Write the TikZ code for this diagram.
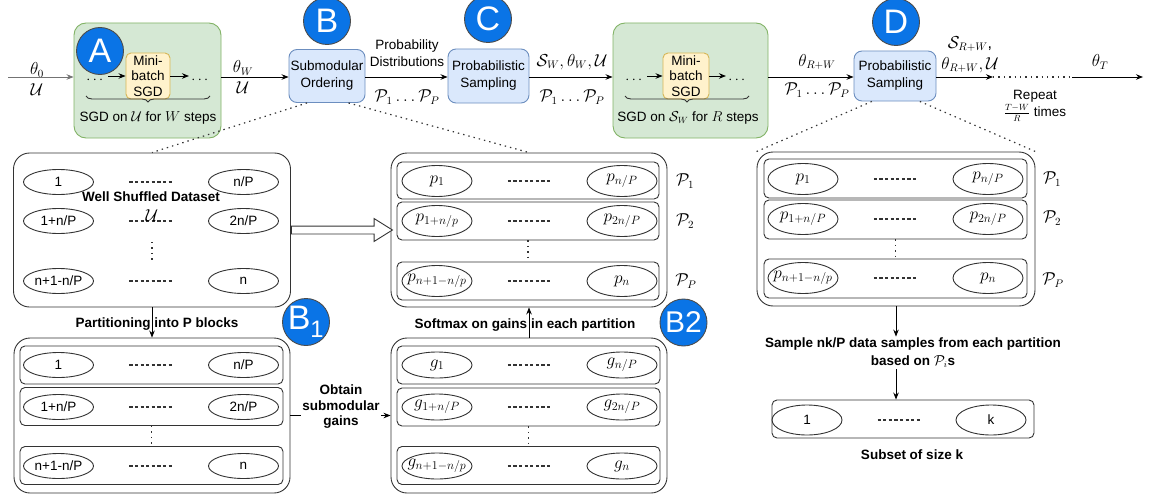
\documentclass[tikz,border=0pt]{standalone}
\usepackage{amsmath}
\usepackage{fontspec}
\setmainfont{Liberation Sans}
\usetikzlibrary{arrows.meta,shapes.geometric,shapes.arrows,decorations.pathreplacing,calc}
\definecolor{gfill}{HTML}{D5E8D4}
\definecolor{gline}{HTML}{82B366}
\definecolor{bfill}{HTML}{DAE8FC}
\definecolor{bline}{HTML}{6C8EBF}
\definecolor{yfill}{HTML}{FFF2CC}
\definecolor{yline}{HTML}{D6B656}
\definecolor{badgeblue}{HTML}{0A74E6}
\definecolor{ink}{HTML}{333333}
\tikzset{
  greenbox/.style={draw=gline, fill=gfill, rounded corners=12pt, inner sep=0pt},
  bluebox/.style={draw=bline, fill=bfill, rounded corners=8pt, align=center, inner sep=1pt, font=\fontsize{13.5}{17}\selectfont},
  ybox/.style={draw=yline, fill=yfill, rounded corners=5pt, align=center, inner sep=0pt, minimum width=44pt, minimum height=46pt, font=\fontsize{13.5}{15.5}\selectfont},
  badge/.style={circle, draw=black!70, fill=badgeblue, minimum size=47pt, inner sep=0pt,
    label={[text=white, font=\fontsize{34}{34}\selectfont]center:#1}},
  badgesm/.style={circle, draw=black!70, fill=badgeblue, minimum size=47pt, inner sep=0pt,
    label={[text=white, font=\fontsize{30}{30}\selectfont]center:#1}},
  panel/.style={draw=ink, rounded corners=16pt, inner sep=0pt},
  rowbox/.style={draw=ink, rounded corners=5pt, inner sep=0pt},
  ellshape/.style={ellipse, draw=ink, minimum width=70pt, minimum height=25pt, inner sep=0pt},
  ell/.style={ellshape, label={[font=\fontsize{13.5}{16}\selectfont]center:#1}},
  ellm/.style={ellshape, label={[font=\fontsize{17}{17}\selectfont]center:$#1$}},
  ellmb/.style={ellm=#1, minimum height=31pt},
  dashline/.style={draw=ink, dash pattern=on 3.2pt off 2.4pt, line width=1.1pt},
  vdots/.style={draw=ink, dash pattern=on 1.4pt off 4pt, line width=1.1pt},
  zoomline/.style={draw=ink, dash pattern=on 1.4pt off 4pt, line width=1.2pt},
  dotline/.style={draw=ink, dash pattern=on 1.4pt off 4pt, line width=1.2pt},
  mlab/.style={font=\fontsize{16}{17}\selectfont, inner sep=1pt},
  boldlab/.style={font=\bfseries\fontsize{13.5}{18}\selectfont, align=center, inner sep=1pt},
  plain/.style={font=\fontsize{13.5}{17}\selectfont, align=center, inner sep=1pt},
  brace/.style={decorate, decoration={brace, mirror, amplitude=6pt}, draw=ink}
}
\begin{document}
\begin{tikzpicture}[x=1pt, y=-1pt, line width=0.9pt, >={Stealth[length=7pt,width=5.5pt]}, font=\fontsize{13.5}{16}\selectfont]
\useasboundingbox (0,0) rectangle (1150,495);

% ---------------- top row ----------------
\node[greenbox, minimum width=147pt, minimum height=115pt] (gA) at (147.5,80.5) {};
\node[greenbox, minimum width=155pt, minimum height=115pt] (gB) at (690.5,80.5) {};
\node[bluebox, minimum width=76pt, minimum height=53pt] (sub) at (327,76) {Submodular\\Ordering};
\node[bluebox, minimum width=81pt, minimum height=54pt] (psC) at (488.5,76) {Probabilistic\\Sampling};
\node[bluebox, minimum width=82pt, minimum height=50pt] (psD) at (895,76) {Probabilistic\\Sampling};

% inside green box A
\node[ybox] (yA) at (148,76) {Mini-\\batch\\SGD};
\node[inner sep=2pt] (dA1) at (96,80) {$\cdots$};
\node[inner sep=2pt] (dA2) at (201,80) {$\cdots$};
\draw[->] (dA1.east |- yA.west) -- (yA.west);
\draw[->] (yA.east) -- (dA2.west |- yA.east);
\draw[brace] (86,96) -- (210,96);
\node[plain] (sgdA) at (148,118) {SGD on $\mathcal{U}$ for $W$ steps};

% inside green box B
\node[ybox, minimum width=46pt] (yB) at (686,76) {Mini-\\batch\\SGD};
\node[inner sep=2pt] (dB1) at (635,80) {$\cdots$};
\node[inner sep=2pt] (dB2) at (738,80) {$\cdots$};
\draw[->] (dB1.east |- yB.west) -- (yB.west);
\draw[->] (yB.east) -- (dB2.west |- yB.east);
\draw[brace] (625,96) -- (749,96);
\node[plain] (sgdB) at (688,118) {SGD on $\mathcal{S}_W$ for $R$ steps};

% labels on top row
\node[mlab] (th0) at (37,70) {$\theta_0$};
\node[mlab] (u0) at (37,90) {$\mathcal{U}$};
\node[mlab] (thW) at (243,68) {$\theta_W$};
\node[mlab] (uW) at (243,88) {$\mathcal{U}$};
\node[plain] (probd) at (407,53.5) {Probability\\Distributions};
\node[mlab] (pp1) at (407,97) {$\mathcal{P}_1\ldots\mathcal{P}_P$};
\node[mlab] (swl) at (572,62) {$\mathcal{S}_W,\theta_W,\mathcal{U}$};
\node[mlab] (pp2) at (572,97) {$\mathcal{P}_1\ldots\mathcal{P}_P$};
\node[mlab] (thRW) at (817,62) {$\theta_{R+W}$};
\node[mlab] (pp3) at (817,90) {$\mathcal{P}_1\ldots\mathcal{P}_P$};
\node[mlab, inner sep=0pt] (srw1) at (970,44) {$\mathcal{S}_{R+W}$,};
\node[mlab, inner sep=0pt] (srw2) at (970,65) {$\theta_{R+W},\mathcal{U}$};
\node[mlab] (thT) at (1100,62) {$\theta_T$};
\node[plain] (rep) at (1035,106) {Repeat\\$\frac{T-W}{R}$ times};

% main connectors
\coordinate (start) at (8,77);
\coordinate (m1) at (993,77);
\coordinate (m2) at (1072,77);
\coordinate (fin) at (1143,77);
\draw[->, draw=black!55] (start) -- (start -| gA.west);
\draw[->] (gA.east |- start) -- (sub.west |- start);
\draw[->] (sub.east |- start) -- (psC.west |- start);
\draw[->] (psC.east |- start) -- (gB.west |- start);
\draw[->] (gB.east |- start) -- (psD.west |- start);
\draw[->] (psD.east |- start) -- (m1);
\draw[dotline] (m1) -- (m2);
\draw[->] (m2) -- (fin);

% badges
\node[badge=A] (bA) at (100,51) {};
\node[badge=B] (bB) at (327,21) {};
\node[badge=C] (bC) at (488,19) {};
\node[badge=D] (bD) at (896,22) {};

% ---------------- panel 1: well shuffled dataset ----------------
\node[panel, minimum width=277pt, minimum height=154pt] (pan1) at (152,230) {};
\node[ell=1] (a11) at (58.5,182) {};
\node[ell=n/P] (a12) at (243.5,182) {};
\node[ell=1+n/P] (a21) at (58.5,221) {};
\node[ell=2n/P] (a22) at (243.5,221) {};
\node[ell=n+1-n/P] (a31) at (58.5,281) {};
\node[ell=n] (a32) at (243.5,281) {};
\foreach \r in {1,2,3}{
  \draw[dashline] ($(a\r1.east)!0.31!(a\r2.west)$) -- ($(a\r1.east)!0.70!(a\r2.west)$);
}
\draw[vdots] (152,242) -- (152,262);
\node[boldlab] (wsd) at (151,197) {Well Shuffled Dataset};
\node[mlab] (wsu) at (152,216) {$\mathcal{U}$};

% ---------------- panel B1: partitioned ----------------
\node[panel, minimum width=276pt, minimum height=155pt] (panB1) at (152,415.5) {};
\node[rowbox, minimum width=263pt, minimum height=38pt] (br1) at (151.5,365) {};
\node[rowbox, minimum width=263pt, minimum height=38pt] (br2) at (151.5,406.5) {};
\node[rowbox, minimum width=263pt, minimum height=38pt] (br3) at (151.5,465.5) {};
\node[ell=1] (b11) at (58.5,365) {};
\node[ell=n/P] (b12) at (243.5,365) {};
\node[ell=1+n/P] (b21) at (58.5,407) {};
\node[ell=2n/P] (b22) at (243.5,407) {};
\node[ell=n+1-n/P] (b31) at (58.5,466) {};
\node[ell=n] (b32) at (243.5,466) {};
\foreach \r in {1,2,3}{
  \draw[dashline] ($(b\r1.east)!0.31!(b\r2.west)$) -- ($(b\r1.east)!0.70!(b\r2.west)$);
}
\draw[vdots] (br2.south) -- (br3.north);

% ---------------- panel G: gains ----------------
\node[panel, minimum width=276pt, minimum height=155pt] (panG) at (529,415.5) {};
\node[rowbox, minimum width=263pt, minimum height=38pt] (gr1) at (528.5,365) {};
\node[rowbox, minimum width=263pt, minimum height=38pt] (gr2) at (528.5,407) {};
\node[rowbox, minimum width=263pt, minimum height=38pt] (gr3) at (528.5,465.5) {};
\node[ellm={g_1}, minimum height=26pt] (g11) at (437,365) {};
\node[ellm={g_{n/P}}, minimum height=26pt] (g12) at (622,365) {};
\node[ellm={g_{1+n/P}}, minimum height=26pt] (g21) at (437,407) {};
\node[ellm={g_{2n/P}}, minimum height=26pt] (g22) at (622,407) {};
\node[ellm={g_{n+1-n/p}}, minimum height=26pt] (g31) at (437,466) {};
\node[ellm={g_n}, minimum height=26pt] (g32) at (622,466) {};
\foreach \r in {1,2,3}{
  \draw[dashline] ($(g\r1.east)!0.31!(g\r2.west)$) -- ($(g\r1.east)!0.70!(g\r2.west)$);
}
\draw[vdots] (gr2.south) -- (gr3.north);

% ---------------- panel P: probabilities ----------------
\node[panel, minimum width=276pt, minimum height=154pt] (panP) at (529,230) {};
\node[rowbox, minimum width=262pt, minimum height=37pt] (pr1) at (528,180.5) {};
\node[rowbox, minimum width=262pt, minimum height=38pt] (pr2) at (528,221) {};
\node[rowbox, minimum width=262pt, minimum height=38pt] (pr3) at (528,281) {};
\node[ellmb={p_1}] (p11) at (437,181) {};
\node[ellmb={p_{n/P}}] (p12) at (622,181) {};
\node[ellmb={p_{1+n/p}}] (p21) at (437,221) {};
\node[ellmb={p_{2n/P}}] (p22) at (622,221) {};
\node[ellmb={p_{n+1-n/p}}] (p31) at (437,281) {};
\node[ellmb={p_n}] (p32) at (622,281) {};
\foreach \r in {1,2,3}{
  \draw[dashline] ($(p\r1.east)!0.31!(p\r2.west)$) -- ($(p\r1.east)!0.70!(p\r2.west)$);
}
\draw[vdots] (pr2.south) -- (pr3.north);
\node[mlab] (lP1) at (685,181) {$\mathcal{P}_1$};
\node[mlab] (lP2) at (685,221) {$\mathcal{P}_2$};
\node[mlab] (lPP) at (686,281) {$\mathcal{P}_P$};

% ---------------- panel 3: sampling ----------------
\node[panel, minimum width=278pt, minimum height=154pt] (pan3) at (896,229) {};
\node[rowbox, minimum width=263pt, minimum height=39pt] (sr1) at (895.5,178.5) {};
\node[rowbox, minimum width=263pt, minimum height=39pt] (sr2) at (895.5,219.5) {};
\node[rowbox, minimum width=263pt, minimum height=39pt] (sr3) at (895.5,278.5) {};
\node[ellmb={p_1}] (s11) at (803,179) {};
\node[ellmb={p_{n/P}}] (s12) at (988,179) {};
\node[ellmb={p_{1+n/P}}] (s21) at (803,219) {};
\node[ellmb={p_{2n/P}}] (s22) at (988,219) {};
\node[ellmb={p_{n+1-n/p}}] (s31) at (803,278) {};
\node[ellmb={p_n}] (s32) at (988,278) {};
\foreach \r in {1,2,3}{
  \draw[dashline] ($(s\r1.east)!0.31!(s\r2.west)$) -- ($(s\r1.east)!0.70!(s\r2.west)$);
}
\draw[vdots] (sr2.south) -- (sr3.north);
\node[mlab] (lS1) at (1052,179) {$\mathcal{P}_1$};
\node[mlab] (lS2) at (1052,218) {$\mathcal{P}_2$};
\node[mlab] (lSP) at (1053,280) {$\mathcal{P}_P$};

% subset
\node[boldlab] (samp) at (913,353) {Sample nk/P data samples from each partition\\based on $\mathcal{P}_i$s};
\node[rowbox, minimum width=262pt, minimum height=38pt] (subset) at (903,419) {};
\node[ell=1, minimum height=30pt] (k1) at (807,420) {};
\node[ell=k, minimum height=30pt] (k2) at (991,420) {};
\draw[dashline] ($(k1.east)!0.31!(k2.west)$) -- ($(k1.east)!0.70!(k2.west)$);
\node[boldlab] (subk) at (912,455) {Subset of size k};

% ---------------- lower connectors ----------------
\draw[zoomline] ($(sub.south west)!0.24!(sub.south east)$) -- (pan1.north);
\draw[zoomline] ($(sub.south west)!0.78!(sub.south east)$) -- (panP.north);
\draw[zoomline] ($(psD.south west)!0.22!(psD.south east)$) -- (pan3.north west);
\draw[zoomline] ($(psD.south west)!0.80!(psD.south east)$) -- (pan3.north east);

\node[single arrow, draw=ink, fill=white, minimum height=101pt, minimum width=22pt,
      single arrow head extend=7.5pt, single arrow tip angle=64, inner xsep=0pt, inner ysep=3.5pt,
      anchor=west] (harrow) at (pan1.east) {};

\draw[->] (pan1.south) -- (panB1.north);
\node[boldlab] (part) at (157,324) {Partitioning into P blocks};
\draw[->] (panG.north) -- (panP.south);
\node[boldlab] (soft) at (525,325) {Softmax on gains in each partition};
\draw[->] (panB1.east) -- (panG.west);
\node[boldlab, fill=white, font=\bfseries\fontsize{13.5}{15.5}\selectfont] (obt) at (341,407) {Obtain\\submodular\\gains};
\draw[->] (pan3.south) -- (pan3.south |- samp.north);
\draw[->] (pan3.south |- samp.south) -- (pan3.south |- subset.north);

\node[badge={B\textsubscript{1}}] (bB1) at (306,322) {};
\node[badgesm=B2] (bB2) at (683.5,322.5) {};
\end{tikzpicture}
\end{document}
